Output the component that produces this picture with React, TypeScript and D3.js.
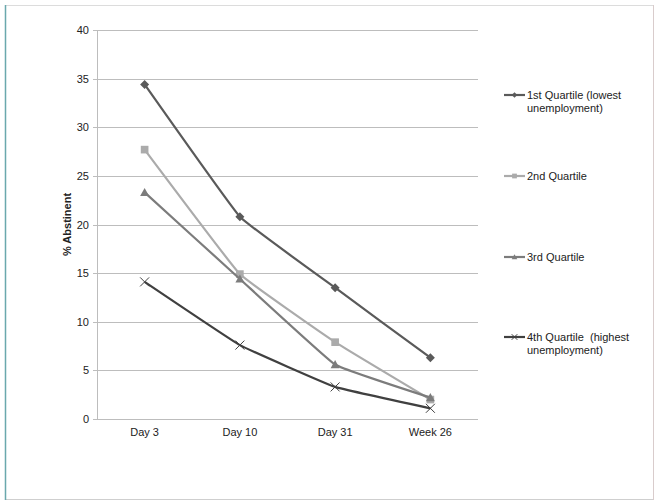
import React, { useEffect, useRef } from "react";
import * as d3 from "d3";

const categories = ["Day 3", "Day 10", "Day 31", "Week 26"];
const yTicks = [0, 5, 10, 15, 20, 25, 30, 35, 40];

const q1 = [34.4, 20.8, 13.5, 6.3];
const q2 = [27.7, 14.9, 7.9, 2.0];
const q3 = [23.3, 14.4, 5.6, 2.2];
const q4 = [14.1, 7.6, 3.3, 1.1];

const seriesNames = [
  ["1st Quartile (lowest", "unemployment)"],
  ["2nd Quartile"],
  ["3rd Quartile"],
  ["4th Quartile  (highest", "unemployment)"],
];
const seriesColors = ["#5a5a5a", "#ababab", "#7c7c7c", "#404040"];
const seriesMarkers = ["diamond", "square", "triangle", "x"];

const App: React.FC = () => {
  const ref = useRef<SVGSVGElement | null>(null);

  useEffect(() => {
    if (!ref.current) return;
    const width = 657;
    const height = 504;
    const svg = d3.select(ref.current).attr("width", width).attr("height", height);
    svg.selectAll("*").remove();

    const font = "Liberation Sans, Arial, sans-serif";

    // outer frame
    svg.append("line").attr("x1", 5).attr("x2", 653).attr("y1", 5.5).attr("y2", 5.5).attr("stroke", "#dcdcdc");
    svg.append("line").attr("x1", 653.5).attr("x2", 653.5).attr("y1", 5).attr("y2", 500).attr("stroke", "#d9cccc");
    svg.append("line").attr("x1", 5).attr("x2", 653).attr("y1", 499.5).attr("y2", 499.5).attr("stroke", "#cfcfcf");
    svg.append("line").attr("x1", 5.5).attr("x2", 5.5).attr("y1", 5).attr("y2", 500).attr("stroke", "#6aa8ad").attr("stroke-width", 1.5);

    const left = 97, right = 478, top = 30, bottom = 419;

    const x = d3.scaleBand<string>().domain(categories).range([left, right]);
    const y = d3.scaleLinear().domain([0, 40]).range([bottom, top]);

    // gridlines
    svg.append("g")
      .selectAll("line")
      .data(yTicks)
      .enter()
      .append("line")
      .attr("x1", left - 4)
      .attr("x2", right)
      .attr("y1", (d) => Math.round(y(d)) + 0.5)
      .attr("y2", (d) => Math.round(y(d)) + 0.5)
      .attr("stroke", "#bdbdbd");

    // y axis line
    svg.append("line").attr("x1", left + 0.5).attr("x2", left + 0.5).attr("y1", top).attr("y2", bottom + 1).attr("stroke", "#bdbdbd");

    // y tick labels
    svg.append("g")
      .selectAll("text")
      .data(yTicks)
      .enter()
      .append("text")
      .attr("x", left - 8)
      .attr("y", (d) => y(d) + 4)
      .attr("text-anchor", "end")
      .style("font-family", font)
      .style("font-size", "11px")
      .attr("fill", "#222")
      .text((d) => d);

    // x labels
    svg.append("g")
      .selectAll("text")
      .data(categories)
      .enter()
      .append("text")
      .attr("x", (d) => (x(d) as number) + x.bandwidth() / 2)
      .attr("y", bottom + 17)
      .attr("text-anchor", "middle")
      .style("font-family", font)
      .style("font-size", "11px")
      .attr("fill", "#222")
      .text((d) => d);

    // y axis title
    svg.append("text")
      .attr("transform", `translate(71, ${(top + bottom) / 2}) rotate(-90)`)
      .attr("text-anchor", "middle")
      .style("font-family", font)
      .style("font-size", "11px")
      .style("font-weight", "bold")
      .attr("fill", "#222")
      .text("% Abstinent");

    const drawMarker = (g: d3.Selection<SVGGElement, unknown, null, undefined>, kind: string, cx: number, cy: number, s: number, color: string) => {
      if (kind === "diamond") {
        g.append("path").attr("d", `M${cx},${cy - s}L${cx + s},${cy}L${cx},${cy + s}L${cx - s},${cy}Z`).attr("fill", color);
      } else if (kind === "square") {
        g.append("rect").attr("x", cx - s * 0.85).attr("y", cy - s * 0.85).attr("width", s * 1.7).attr("height", s * 1.7).attr("fill", color);
      } else if (kind === "triangle") {
        g.append("path").attr("d", `M${cx},${cy - s}L${cx + s},${cy + s * 0.8}L${cx - s},${cy + s * 0.8}Z`).attr("fill", color);
      } else {
        g.append("path").attr("d", `M${cx - s},${cy - s}L${cx + s},${cy + s}M${cx - s},${cy + s}L${cx + s},${cy - s}`).attr("stroke", color).attr("stroke-width", 1).attr("fill", "none");
      }
    };

    const allSeries = [q1, q2, q3, q4];
    const line = d3
      .line<number>()
      .x((_, i) => (x(categories[i]) as number) + x.bandwidth() / 2)
      .y((d) => y(d))
      .curve(d3.curveCardinal.tension(0.75));

    allSeries.forEach((vals, si) => {
      const g = svg.append("g");
      g.append("path")
        .attr("d", line(vals) as string)
        .attr("fill", "none")
        .attr("stroke", seriesColors[si])
        .attr("stroke-width", 2.2);
      vals.forEach((v, i) => {
        const cx = (x(categories[i]) as number) + x.bandwidth() / 2;
        drawMarker(g, seriesMarkers[si], cx, y(v), 4.5, seriesColors[si]);
      });
    });

    // legend
    const legendY = [99, 180, 261, 341];
    seriesNames.forEach((lines, si) => {
      const g = svg.append("g");
      const ly = legendY[si] - 4;
      g.append("line").attr("x1", 504).attr("x2", 525).attr("y1", ly).attr("y2", ly).attr("stroke", seriesColors[si]).attr("stroke-width", 2.2);
      drawMarker(g, seriesMarkers[si], 514.5, ly, 2.8, seriesColors[si]);
      lines.forEach((t, li) => {
        g.append("text")
          .attr("x", 527)
          .attr("y", legendY[si] + li * 12.5)
          .attr("xml:space", "preserve")
          .style("white-space", "pre")
          .style("font-family", font)
          .style("font-size", "11px")
          .attr("fill", "#222")
          .text(t);
      });
    });
  }, []);

  return (
    <div style={{ position: "absolute", left: 0, top: 0 }}>
      <svg ref={ref} style={{ display: "block", background: "#fff" }}></svg>
    </div>
  );
};

export default App;
